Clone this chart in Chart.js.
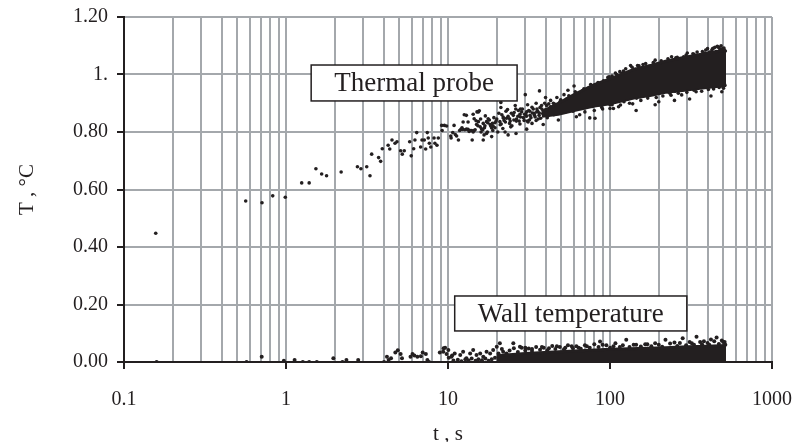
<!DOCTYPE html>
<html>
<head>
<meta charset="utf-8">
<script src="https://cdn.jsdelivr.net/npm/chart.js@4/dist/chart.umd.min.js"></script>
<style>
  html, body { margin: 0; padding: 0; background: #ffffff; }
  #wrap { width: 796px; height: 442px; position: relative; }
</style>
</head>
<body>
<div id="wrap"><canvas id="c" width="796" height="442"></canvas></div>
<script>
// ---- axis ticks ----
const xTicks = [0.1,0.2,0.3,0.4,0.5,0.6,0.7,0.8,0.9,1,2,3,4,5,6,7,8,9,10,20,30,40,50,60,70,80,90,100,200,300,400,500,600,700,800,900,1000];
const xLabelValues = [0.1, 1, 10, 100, 1000];
const xTickLabels = ['0.1', '1', '10', '100', '1000'];
const yTicks = [0, 0.2, 0.4, 0.6, 0.8, 1.0, 1.2];
const yTickLabels = ['0.00', '0.20', '0.40', '0.60', '0.80', '1.', '1.20'];

// ---- Thermal probe: individual readings (t, s ; T, °C) ----
const probeTime = [0.157,0.564,0.711,0.828,0.99,1.25,1.39,1.53,1.66,1.78,2.19,2.76,2.90,3.15,3.30,3.38,3.73,3.84,3.93,4.27,4.37,4.51,4.71,4.84,5.10,5.22,5.37,5.80,5.93,6.14,6.25,6.41,6.78,6.91,7.14,7.28,7.45,7.55,7.67,7.83,8.20,8.30,8.55,8.71,9.14,9.20,9.50,9.80,10.4,10.45,10.7,10.9,11.1,11.3,11.6,11.8,12.0,12.3,12.6,12.4,13.3,13.5,14.1,14.0,14.5,14.5,14.9,13.3,15.1,15.6,
  12.2,12.7,13.0,13.7,14.3,14.7,15.0,15.4,15.8,16.1,16.5,16.9,17.3,17.7,18.2,18.6,19.0,19.5,20.0,12.98,14.3,15.4,16.5,17.3,18.6,20.9,21.9,23.0,24.2,25.3,26.5,27.8,29.2,30.6,22.5,23.5,26.0,28,31,32.1,33.6,35.3,37,38.7,40.6,42.6,44.7,46.9,49.1,33,36,41,45,48,52,54,57,59.4,62,65.3,68,71.8,75,78.9,83,86.8,92,95.4,100,104.7,30,40,55,60,70,80,90,65,100,85,
  16,16.8,17.5,18,18.8,19.5,20.3,21,21.5,22.2,22.8,23.5,24,24.6,25.5,26.2,27,27.5,28.5,29.5,30.2,31.5,32.5,34,35,36.5,38,39.5,41,43,44,46,47,50,52,53,56,58,61,63,67,69,73,76,82,88,91,97,110,118,125,160,180,190,260,300,330,390,430,470,500,
  134,148,115,119,240,277,360,445,467,87,100,105,116,132,200,234,277,340,490,177,153,36.7,21.2,21.2,26.3,30.6,62,80.8,38.7,75,
  30.5,31.8,33.2,34.5,35.8,37.3,38.4,40.1,41.7,42.9,44.2,45.5,46.8,48.2,49.6,51.0,52.6,54.3,55.7,57.4,59.1,60.5,62.3,64.0,66.1,67.8,69.6,71.5,73.4,75.6,77.7,79.8,82.0,84.3,86.1,88.9,91.2,93.7,96.3,98.8,
  103,108,112,121,128,137,143,151,158,166,173,185,196,207,215,228,245,255,268,285,295,312,325,345,355,372,385,400,412,425,438,452,460,478,485,495,505,515,
  103,109,113,122,129,138,146,155,163,171,184,193,205,212,226,238,252,264,282,298,315,330,350,368,385,405,418,436,455,472,488,502,512,420,310,250,190,145,
  15.3,15.9,16.4,17.0,17.6,18.4,19.2,19.8,20.6,21.3,22.0,22.6,23.3,24.0,24.8,25.6,26.4,27.2,28.0,28.8,29.7,30.9,32.0,33.0,34.2,35.4,36.6,37.8,39.2,40.5,41.9,43.4,44.8,16.7,18.9,21.8,24.4,27.8,31.2,35.0];
const probeTemp = [0.448,0.560,0.554,0.578,0.573,0.623,0.623,0.672,0.654,0.648,0.661,0.679,0.672,0.679,0.648,0.723,0.711,0.698,0.742,0.754,0.741,0.772,0.761,0.766,0.735,0.723,0.735,0.766,0.717,0.742,0.772,0.798,0.748,0.772,0.772,0.741,0.798,0.779,0.761,0.748,0.779,0.761,0.754,0.779,0.823,0.805,0.823,0.821,0.786,0.779,0.798,0.823,0.791,0.786,0.772,0.805,0.809,0.809,0.860,0.835,0.809,0.802,0.772,0.805,0.805,0.846,0.839,0.835,0.870,0.874,
  0.815,0.808,0.810,0.805,0.800,0.808,0.826,0.836,0.818,0.811,0.830,0.822,0.836,0.846,0.826,0.814,0.820,0.832,0.845,0.858,0.862,0.870,0.772,0.795,0.784,0.836,0.852,0.848,0.838,0.858,0.845,0.862,0.850,0.870,0.800,0.790,0.892,0.880,0.895,0.858,0.880,0.870,0.885,0.873,0.892,0.880,0.900,0.888,0.905,0.830,0.845,0.850,0.860,0.842,0.870,0.915,0.895,0.925,0.905,0.935,0.918,0.940,0.925,0.955,0.940,0.965,0.950,0.970,0.960,0.980,0.930,0.920,0.945,0.960,0.870,0.875,0.880,0.860,0.895,0.895,
  0.800,0.815,0.800,0.842,0.830,0.815,0.800,0.825,0.860,0.840,0.872,0.855,0.830,0.865,0.842,0.880,0.855,0.838,0.870,0.840,0.862,0.875,0.850,0.865,0.900,0.858,0.880,0.900,0.870,0.910,0.875,0.885,0.920,0.900,0.930,0.870,0.915,0.885,0.940,0.895,0.925,0.950,0.910,0.965,0.930,0.970,0.910,0.990,1.000,0.940,1.020,1.035,0.985,1.050,1.060,1.075,1.070,1.085,1.090,1.095,1.085,
  1.031,1.031,1.010,1.004,1.062,1.045,1.068,1.095,1.095,0.894,0.882,0.882,0.894,0.900,0.905,0.935,0.929,0.940,0.940,0.946,0.923,0.943,0.903,0.885,0.795,0.810,0.853,0.848,0.826,0.849,
  0.855,0.842,0.866,0.852,0.872,0.848,0.864,0.878,0.858,0.888,0.866,0.897,0.872,0.882,0.912,0.878,0.896,0.884,0.926,0.902,0.872,0.918,0.935,0.908,0.882,0.944,0.921,0.897,0.952,0.934,0.889,0.962,0.915,0.972,0.948,0.885,0.978,0.935,0.902,0.992,
  0.995,1.005,0.990,1.012,1.003,1.025,1.018,1.030,1.022,1.038,1.028,1.042,1.035,1.048,1.040,1.055,1.050,1.058,1.048,1.062,1.068,1.058,1.072,1.078,1.065,1.080,1.075,1.090,1.078,1.085,1.092,1.080,1.098,1.088,1.100,1.090,1.092,1.082,
  0.895,0.910,0.888,0.905,0.915,0.898,0.918,0.910,0.928,0.918,0.932,0.920,0.938,0.925,0.940,0.928,0.942,0.935,0.948,0.938,0.952,0.945,0.955,0.942,0.958,0.948,0.960,0.950,0.962,0.955,0.960,0.952,0.963,0.925,0.915,0.910,0.895,0.875,
  0.822,0.845,0.808,0.856,0.832,0.820,0.850,0.838,0.865,0.828,0.848,0.835,0.878,0.846,0.822,0.868,0.838,0.875,0.852,0.880,0.862,0.838,0.872,0.886,0.858,0.880,0.866,0.892,0.872,0.862,0.898,0.878,0.890,0.790,0.805,0.812,0.818,0.828,0.835,0.840];

// ---- Thermal probe: edges of the saturated (solid black) part of the cloud ----
const probeBandTime  = [38, 48, 60, 80, 100, 140, 180, 220, 280, 360, 440, 520];
const probeBandUpper = [0.870, 0.900, 0.930, 0.965, 0.985, 1.018, 1.032, 1.046, 1.058, 1.070, 1.078, 1.085];
const probeBandLower = [0.855, 0.862, 0.875, 0.890, 0.898, 0.918, 0.928, 0.938, 0.944, 0.952, 0.957, 0.962];

// ---- Wall temperature: individual readings ----
const wallTime = [0.159,0.571,0.708,0.97,1.13,1.27,1.39,1.55,1.96,2.23,2.36,2.79,4.03,4.2,4.3,4.45,4.73,4.9,5.1,5.2,5.87,6.04,6.2,6.47,6.8,6.98,7.3,7.46,7.64,8.9,9.4,9.6,9.8,10.1,10.6,
  9.35,10.05,10.5,11.0,11.9,12.4,13.0,13.7,14.3,15.0,15.8,16.5,17.3,18.2,19.0,20.0,20.9,21.9,23.0,25.3,27.8,10.8,11.5,12.1,12.8,13.4,14,14.8,15.4,16.2,17,17.8,18.6,19.5,20.5,22.5,24,26,
  30,33,38,42,47,53,58,64,72,86.8,95,108,126,140,165,190,220,250,281,310,342,380,420,455,490,510,
  20.5,21.5,22.8,24,25.5,27,28.5,30,31.5,33,35,37,39,41,44,46,49,52,55,59,62,66,70,75,80,85,90,100,105,115,120,132,145,155,170,180,200,210,235,260,270,295,320,330,360,370,400,410,440,470,500,515];
const wallTemp = [0,0,0.018,0.004,0.007,0,0,0,0.013,0,0.007,0.007,0,0.018,0.007,0.013,0.033,0.041,0.028,0.013,0.018,0.028,0.023,0.018,0.020,0.033,0.028,0.007,0,0.033,0.048,0.050,0.028,0.015,0.023,
  0.036,0.042,0.018,0.030,0.024,0.036,0.013,0.030,0.042,0.024,0.030,0.018,0.036,0.030,0.042,0.053,0.065,0.036,0.030,0.065,0.053,0.005,0.008,0.003,0.010,0.005,0.012,0.004,0.010,0.006,0.012,0.004,0.010,0.015,0.008,0.010,0.020,0.015,
  0.050,0.045,0.052,0.048,0.055,0.050,0.055,0.050,0.055,0.071,0.058,0.065,0.077,0.060,0.062,0.065,0.077,0.068,0.083,0.070,0.088,0.072,0.078,0.085,0.075,0.070,
  0.030,0.045,0.025,0.040,0.048,0.035,0.050,0.040,0.047,0.038,0.052,0.043,0.050,0.040,0.056,0.045,0.052,0.044,0.058,0.048,0.055,0.046,0.058,0.050,0.062,0.052,0.060,
  0.050,0.055,0.052,0.058,0.052,0.060,0.054,0.062,0.055,0.060,0.053,0.064,0.056,0.066,0.058,0.065,0.060,0.070,0.062,0.066,0.060,0.072,0.063,0.070,0.060];

// ---- Wall temperature: upper edge of the saturated band (lower edge is 0) ----
const wallBandTime  = [20, 30, 45, 70, 100, 150, 220, 300, 400, 520];
const wallBandUpper = [0.022, 0.030, 0.035, 0.040, 0.044, 0.047, 0.050, 0.053, 0.055, 0.057];

const INK = '#231f20';
const GRID = '#a4a8ac';
const SERIF = "'Liberation Serif', 'Times New Roman', serif";

const pts = (xs, ys) => xs.map((x, i) => ({ x: x, y: ys[i] }));

// annotation boxes anchored in data space
const notes = [
  { text: 'Thermal probe', t0: 1.43, t1: 26.7, v0: 1.033, v1: 0.908 },
  { text: 'Wall temperature', t0: 11.0, t1: 298, v0: 0.2296, v1: 0.108 }
];

const notePlugin = {
  id: 'notes',
  afterDatasetsDraw(chart) {
    const { ctx, scales } = chart;
    const xs = scales.x, ys = scales.y;
    ctx.save();
    notes.forEach(n => {
      const x0 = xs.getPixelForValue(n.t0), x1 = xs.getPixelForValue(n.t1);
      const y0 = ys.getPixelForValue(n.v0), y1 = ys.getPixelForValue(n.v1);
      ctx.fillStyle = '#ffffff';
      ctx.fillRect(x0, y0, x1 - x0, y1 - y0);
      ctx.strokeStyle = INK;
      ctx.lineWidth = 1.5;
      ctx.strokeRect(x0, y0, x1 - x0, y1 - y0);
      ctx.fillStyle = INK;
      ctx.font = "27px " + SERIF;
      ctx.textAlign = 'center';
      ctx.textBaseline = 'middle';
      ctx.fillText(n.text, (x0 + x1) / 2, (y0 + y1) / 2 + 1);
    });
    ctx.restore();
  }
};

new Chart(document.getElementById('c'), {
  type: 'scatter',
  data: {
    datasets: [
      { type: 'line', data: pts(probeBandTime, probeBandUpper), fill: '+1', backgroundColor: INK, borderColor: INK, borderWidth: 3, pointRadius: 0, tension: 0 },
      { type: 'line', data: pts(probeBandTime, probeBandLower), fill: false, borderColor: INK, borderWidth: 3, pointRadius: 0, tension: 0 },
      { type: 'line', data: pts(wallBandTime, wallBandUpper), fill: 'origin', backgroundColor: INK, borderColor: INK, borderWidth: 3, pointRadius: 0, tension: 0 },
      { data: pts(probeTime, probeTemp), backgroundColor: INK, borderColor: INK, pointRadius: 1.8, pointBorderWidth: 0 },
      { data: pts(wallTime, wallTemp), backgroundColor: INK, borderColor: INK, pointRadius: 2.0, pointBorderWidth: 0 }
    ]
  },
  options: {
    responsive: false,
    animation: false,
    events: [],
    layout: { padding: { top: 17, right: 24, left: 0, bottom: 0 } },
    plugins: { legend: { display: false }, tooltip: { enabled: false } },
    scales: {
      x: {
        type: 'logarithmic',
        min: 0.1,
        max: 1000,
        afterBuildTicks(s) { s.ticks = xTicks.map(v => ({ value: v })); },
        afterFit(s) { s.height = 80; s.paddingLeft = 0; s.paddingRight = 0; },
        grid: {
          color: GRID,
          lineWidth: 2,
          tickLength: 7,
          tickWidth: 2,
          tickColor: c => (c.tick && xLabelValues.includes(c.tick.value)) ? INK : 'rgba(0,0,0,0)'
        },
        border: { color: INK, width: 2 },
        ticks: {
          autoSkip: false,
          maxRotation: 0,
          minRotation: 0,
          padding: 19,
          color: INK,
          font: { family: SERIF, size: 20 },
          callback: v => { const i = xLabelValues.indexOf(v); return i >= 0 ? xTickLabels[i] : ''; }
        },
        title: { display: true, text: 't , s', color: INK, font: { family: SERIF, size: 21, lineHeight: 1 }, padding: { top: 0, bottom: -3 } }
      },
      y: {
        min: 0,
        max: 1.2,
        afterBuildTicks(s) { s.ticks = yTicks.map(v => ({ value: v })); },
        afterFit(s) { s.width = 124; s.paddingTop = 0; s.paddingBottom = 0; },
        grid: { color: GRID, lineWidth: 2, tickLength: 7, tickWidth: 2, tickColor: INK },
        border: { color: INK, width: 2 },
        ticks: {
          padding: 9,
          color: INK,
          font: { family: SERIF, size: 20 },
          callback: (v, i) => yTickLabels[i]
        },
        title: { display: true, text: 'T , °C', color: INK, font: { family: SERIF, size: 21, lineHeight: 1 }, padding: { top: 17, bottom: 0 } }
      }
    }
  },
  plugins: [notePlugin]
});
</script>
</body>
</html>
